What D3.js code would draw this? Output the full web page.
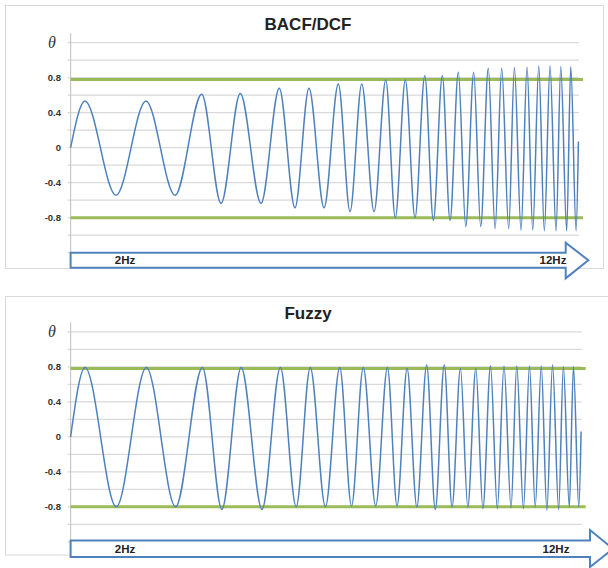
<!DOCTYPE html>
<html>
<head>
<meta charset="utf-8">
<script src="https://cdn.jsdelivr.net/npm/d3@7"></script>
<style>
  html, body { margin: 0; padding: 0; background: #fff; }
  svg { display: block; }
</style>
</head>
<body>
<svg id="chart" width="608" height="568"></svg>
<script>
// Time (s) of each crest and each trough of the 2 Hz -> 12 Hz sweep
const peakTimes = [0.119, 0.624, 1.086, 1.405, 1.728, 1.974, 2.217, 2.411, 2.610, 2.772, 2.933,
                   3.078, 3.211, 3.338, 3.459, 3.570, 3.675, 3.780, 3.877, 3.970, 4.059, 4.142];
const troughTimes = [0.376, 0.865, 1.246, 1.577, 1.858, 2.099, 2.314, 2.513, 2.689, 2.852, 3.004,
                     3.142, 3.272, 3.396, 3.515, 3.628, 3.730, 3.827, 3.923, 4.020, 4.108, 4.186];
const startTime = 0;
const endTime = 4.205;

// BACF/DCF response: crest and trough values of theta
const bacfPeaks = [0.534, 0.534, 0.61, 0.62, 0.68, 0.68, 0.728, 0.728, 0.774, 0.774, 0.823,
                   0.823, 0.861, 0.861, 0.907, 0.907, 0.918, 0.918, 0.934, 0.934, 0.926, 0.926];
const bacfTroughs = [-0.544, -0.544, -0.636, -0.636, -0.686, -0.686, -0.73, -0.73, -0.80, -0.80, -0.83,
                     -0.83, -0.90, -0.90, -0.926, -0.926, -0.94, -0.94, -0.95, -0.95, -0.95, -0.95];
const bacfEnd = 0.07;

// Fuzzy response: crest and trough values of theta
const fuzzyPeaks = [0.793, 0.793, 0.793, 0.793, 0.793, 0.793, 0.793, 0.793, 0.793, 0.78, 0.82,
                    0.82, 0.78, 0.78, 0.81, 0.81, 0.81, 0.81, 0.81, 0.823, 0.80, 0.80];
const fuzzyTroughs = [-0.80, -0.80, -0.83, -0.83, -0.80, -0.80, -0.79, -0.79, -0.79, -0.80, -0.83,
                      -0.80, -0.80, -0.82, -0.82, -0.81, -0.82, -0.80, -0.84, -0.83, -0.80, -0.80];
const fuzzyEnd = 0.06;

// Reference limits and axis labels
const limitUpper = 0.78;
const limitLower = -0.8;
const yLabelValues = [0.8, 0.4, 0, -0.4, -0.8];
const freqLabels = ["2Hz", "12Hz"];
const titles = ["BACF/DCF", "Fuzzy"];

// Merge crest/trough lists into one ordered series
function buildSeries(peaks, troughs, endVal) {
  const pts = [{t: startTime, v: 0}];
  peakTimes.forEach((t, i) => {
    pts.push({t: t, v: peaks[i]});
    pts.push({t: troughTimes[i], v: troughs[i]});
  });
  pts.push({t: endTime, v: endVal});
  return pts;
}

const svg = d3.select("#chart");

const panels = [
  {title: titles[0], series: buildSeries(bacfPeaks, bacfTroughs, bacfEnd),
   box: {x: 5.5, y: 5.5, w: 598, h: 263},
   titleY: 30, xr: [70.6, 579], yr: [252.7, 42.7],
   arrow: {x0: 70.6, top: 252.7, bot: 267.7, head: 565.7, hTop: 242.7, hBot: 278.3, tip: 588.3},
   lab: [125, 553]},
  {title: titles[1], series: buildSeries(fuzzyPeaks, fuzzyTroughs, fuzzyEnd),
   box: {x: 5.5, y: 296.5, w: 640, h: 258.5},
   titleY: 319, xr: [70.6, 581.7], yr: [541.8, 331.8],
   arrow: {x0: 70.6, top: 540.5, bot: 557, head: 590, hTop: 530, hBot: 567, tip: 613},
   lab: [125, 556]}
];

panels.forEach(p => {
  const g = svg.append("g");
  const x = d3.scaleLinear().domain([0, 4.21]).range(p.xr);
  const y = d3.scaleLinear().domain([-1.2, 1.2]).range(p.yr);

  // panel frame
  g.append("rect")
    .attr("x", p.box.x).attr("y", p.box.y)
    .attr("width", p.box.w).attr("height", p.box.h)
    .attr("fill", "#fff").attr("stroke", "#d9d9d9").attr("stroke-width", 1);

  // title
  g.append("text")
    .attr("x", 308).attr("y", p.titleY)
    .attr("text-anchor", "middle")
    .attr("font-family", "Liberation Sans, Arial, sans-serif")
    .attr("font-weight", "bold").attr("font-size", 17)
    .attr("fill", "#222")
    .text(p.title);

  // horizontal gridlines every 0.2 with small outer ticks
  const gridVals = d3.range(-12, 13, 2).map(d => d / 10);
  const x0 = p.xr[0];
  g.append("g").selectAll("line").data(gridVals).join("line")
    .attr("x1", x0 - 3).attr("x2", p.xr[1])
    .attr("y1", d => y(d)).attr("y2", d => y(d))
    .attr("stroke", "#d9d9d9").attr("stroke-width", 1.2);

  // vertical axis line
  g.append("line")
    .attr("x1", x0).attr("x2", x0)
    .attr("y1", y(1.2) - 9.5).attr("y2", y(-1.2))
    .attr("stroke", "#c8c8c8").attr("stroke-width", 1.2);

  // tick labels
  g.append("g").selectAll("text").data(yLabelValues).join("text")
    .attr("x", 61).attr("y", d => y(d))
    .attr("dy", "0.35em")
    .attr("text-anchor", "end")
    .attr("font-family", "Liberation Sans, Arial, sans-serif")
    .attr("font-weight", "bold").attr("font-size", 9.5)
    .attr("fill", "#333")
    .text(d => String(d));

  // theta axis symbol
  g.append("text")
    .attr("x", 52).attr("y", y(1.2) + 5)
    .attr("text-anchor", "middle")
    .attr("font-family", "Liberation Serif, DejaVu Serif, serif")
    .attr("font-style", "italic").attr("font-size", 16)
    .attr("fill", "#333")
    .text("θ");

  // limit lines
  g.append("g").selectAll("line").data([limitUpper, limitLower]).join("line")
    .attr("x1", x0).attr("x2", p.xr[1] + 4)
    .attr("y1", d => y(d)).attr("y2", d => y(d))
    .attr("stroke", "#9bbb59").attr("stroke-width", 3);

  // response curve
  const line = d3.line()
    .x(d => x(d.t)).y(d => y(d.v))
    .curve(d3.curveMonotoneX);
  g.append("path")
    .datum(p.series)
    .attr("d", line)
    .attr("fill", "none")
    .attr("stroke", "#4f81bd").attr("stroke-width", 1.5)
    .attr("stroke-linejoin", "round");

  // frequency sweep arrow
  const a = p.arrow;
  const mid = (a.top + a.bot) / 2;
  const arrowPts = [[a.x0, a.top], [a.head, a.top], [a.head, a.hTop], [a.tip, mid],
                    [a.head, a.hBot], [a.head, a.bot], [a.x0, a.bot]];
  g.append("path")
    .attr("d", d3.line()(arrowPts) + "Z")
    .attr("fill", "#fff").attr("stroke", "#4f81bd").attr("stroke-width", 2)
    .attr("stroke-linejoin", "miter");

  g.append("g").selectAll("text").data(freqLabels).join("text")
    .attr("x", (d, i) => p.lab[i]).attr("y", mid)
    .attr("dy", "0.35em")
    .attr("text-anchor", "middle")
    .attr("font-family", "Liberation Sans, Arial, sans-serif")
    .attr("font-weight", "bold").attr("font-size", 11.5)
    .attr("fill", "#222")
    .text(d => d);
});
</script>
</body>
</html>
